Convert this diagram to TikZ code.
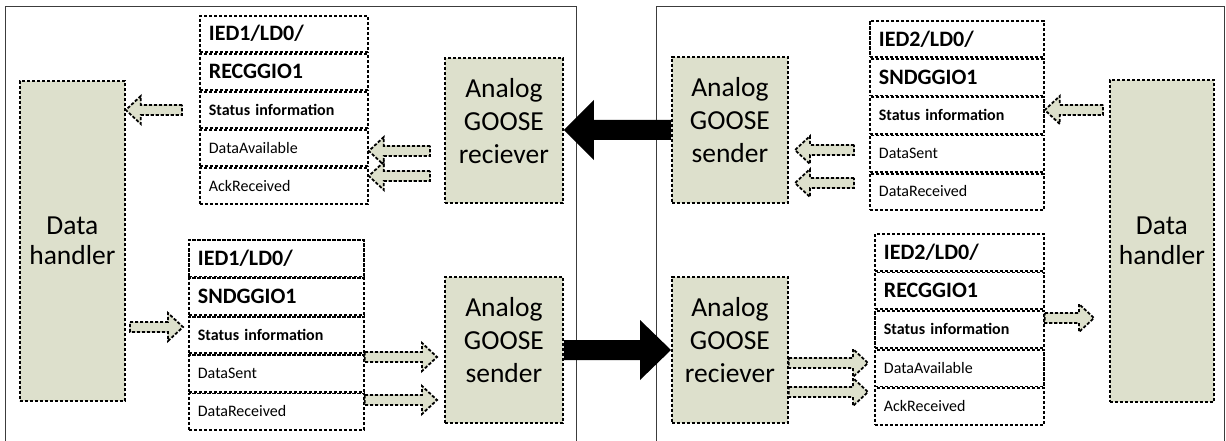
\documentclass[tikz,border=0pt]{standalone}
\usepackage{fontspec}
\setmainfont{Carlito}
\usetikzlibrary{calc}

\definecolor{boxfill}{RGB}{221,224,204}
\definecolor{panelline}{RGB}{60,60,60}

\tikzset{
  dotline/.style={draw=black, line width=1.8pt, dash pattern=on 3.2pt off 1.8pt},
  gbox/.style={dotline, fill=boxfill, inner sep=0pt, anchor=north west,
               font=\fontsize{27.5}{30}\selectfont, align=center},
  bigtext/.style={font=\fontsize{27.5}{33}\selectfont, align=center, inner sep=0pt},
  row/.style={dotline, fill=white, anchor=north west, inner xsep=9pt, inner ysep=0pt,
              align=left, text depth=0pt},
  hdr/.style={row, font=\fontsize{22}{26}\bfseries\selectfont, text height=13.9pt},
  sub/.style={row, font=\fontsize{16}{19}\bfseries\selectfont, text height=10.1pt},
  sig/.style={row, font=\fontsize{16}{19}\selectfont, text height=10.1pt},
  flow/.style={dotline, fill=boxfill, line join=miter},
  solidflow/.style={fill=black, draw=none},
  panel/.style={draw=panelline, line width=0.9pt},
}

% five-row logical node table: name, top-left corner, width, row height, rows
\newcommand\iedtable[8]{%
  \pgfmathsetmacro\tblw{#3-18}%
  \begin{scope}[every node/.append style={minimum width=#3, text width=\tblw pt, minimum height=#4}]
    \node[hdr] (#1-1) at (#2) {#5};
    \node[hdr] (#1-2) at (#1-1.south west) {#6};
    \node[sub] (#1-3) at (#1-2.south west) {Status information};
    \node[sig] (#1-4) at (#1-3.south west) {#7};
    \node[sig] (#1-5) at (#1-4.south west) {#8};
  \end{scope}}

% block arrow: style, tail, tip, shaft half-width, head half-width, head length
\newcommand\blockarrow[6]{%
  \draw[#1] let \p1=(#2), \p2=(#3), \p3=($(#3)!#6!(#2)$) in
    (\x1,\y2+#4) -- (\x3,\y2+#4) -- (\x3,\y2+#5) -- (\x2,\y2)
    -- (\x3,\y2-#5) -- (\x3,\y2-#4) -- (\x1,\y2-#4) -- cycle;}
\newcommand\flowarrow[2]{\blockarrow{flow}{#1}{#2}{5pt}{14pt}{15pt}}

\begin{document}
\begin{tikzpicture}[x=1pt, y=-1pt]
  \useasboundingbox[fill=white] (0,0) rectangle (1226,441);

  % the two IED panels
  \draw[panel] (5,450) -- (5,6) -- (576,6) -- (576,450);
  \draw[panel] (656,450) -- (656,6) -- (1224,6) -- (1224,450);

  % ---------------- IED1 ----------------
  \node[gbox, minimum width=105, minimum height=320] (dh1) at (19,80) {Data\\handler};
  \node[gbox, minimum width=118, minimum height=145] (recv1) at (444,57) {};
  \node[bigtext, yshift=9.5pt] at (recv1.center) {Analog\\GOOSE\\reciever};
  \node[gbox, minimum width=118, minimum height=146] (send2) at (444,276) {};
  \node[bigtext, yshift=10pt] at (send2.center) {Analog\\GOOSE\\sender};

  \iedtable{t1}{199,15}{168}{36.2}{IED1/LD0/}{RECGGIO1}{DataAvailable}{AckReceived}
  \iedtable{t2}{188,239}{175}{36.6}{IED1/LD0/}{SNDGGIO1}{DataSent}{DataReceived}

  % ---------------- IED2 ----------------
  \node[gbox, minimum width=104, minimum height=322] (dh2) at (1109,79) {Data\\handler};
  \node[gbox, minimum width=116, minimum height=146] (send1) at (671,56) {};
  \node[bigtext, yshift=9.5pt] at (send1.center) {Analog\\GOOSE\\sender};
  \node[gbox, minimum width=116, minimum height=146] (recv2) at (671,276) {};
  \node[bigtext, yshift=10pt] at (recv2.center) {Analog\\GOOSE\\reciever};

  \iedtable{t3}{869,20}{174}{36.4}{IED2/LD0/}{SNDGGIO1}{DataSent}{DataReceived}
  \iedtable{t4}{874,233}{169}{36.8}{IED2/LD0/}{RECGGIO1}{DataAvailable}{AckReceived}

  % free ends of the internal signal arrows
  \coordinate (f1) at (182,110);
  \coordinate (f2) at (430,151);
  \coordinate (f3) at (430,176);
  \coordinate (f4a) at (130,327);
  \coordinate (f4b) at (183,327);
  \coordinate (f5) at (437,357);
  \coordinate (f6) at (437,400);
  \coordinate (f7a) at (854,150);
  \coordinate (f7b) at (795,150);
  \coordinate (f8a) at (854,183);
  \coordinate (f8b) at (795,183);
  \coordinate (f9) at (1103,110);
  \coordinate (f10) at (1094,318);
  \coordinate (f11) at (868,363);
  \coordinate (f12) at (868,392);

  % internal signal flow, IED1
  \flowarrow{f1}{dh1.east |- f1}
  \flowarrow{f2}{t1-4.east |- f2}
  \flowarrow{f3}{t1-5.east |- f3}
  \flowarrow{f4a}{f4b}
  \flowarrow{t2-4.east |- f5}{f5}
  \flowarrow{t2-5.east |- f6}{f6}

  % internal signal flow, IED2
  \flowarrow{f7a}{f7b}
  \flowarrow{f8a}{f8b}
  \flowarrow{f9}{t3-3.east |- f9}
  \flowarrow{t4-3.east |- f10}{f10}
  \flowarrow{recv2.east |- f11}{f11}
  \flowarrow{recv2.east |- f12}{f12}

  % GOOSE messages between the IEDs
  \blockarrow{solidflow}{send1.west |- 0,130}{recv1.east |- 0,130}{10pt}{30pt}{30pt}
  \blockarrow{solidflow}{send2.east |- 0,350}{recv2.west |- 0,350}{10pt}{30pt}{31pt}
\end{tikzpicture}
\end{document}
